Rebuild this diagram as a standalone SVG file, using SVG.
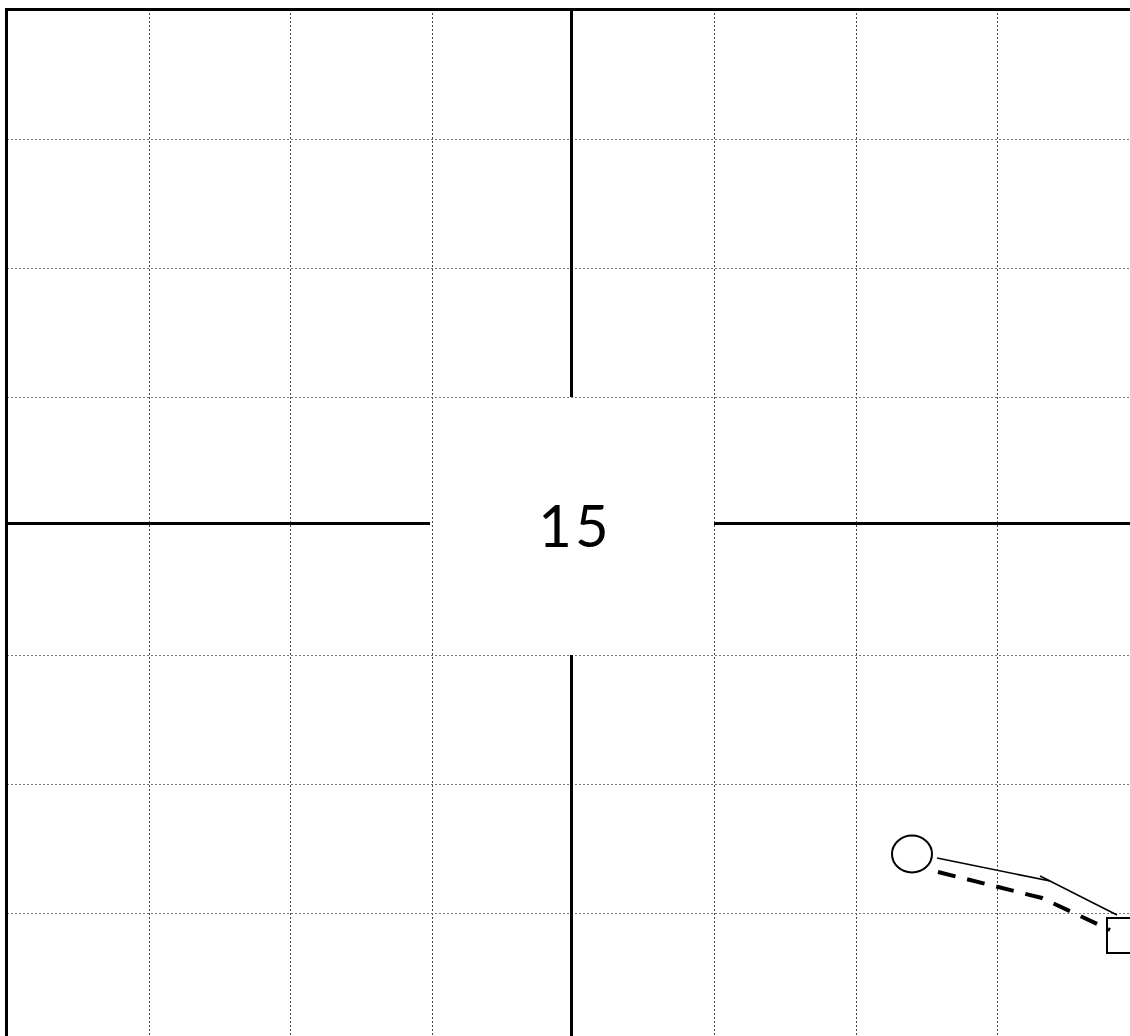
<svg xmlns="http://www.w3.org/2000/svg" width="1130" height="1036" viewBox="0 0 1130 1036">
<style>
.gv{stroke:#444;stroke-width:1;stroke-dasharray:2 2;fill:none}
.gh{stroke:#777;stroke-width:1;stroke-dasharray:2 2;fill:none}
.thick{stroke:#000;stroke-width:3;fill:none}
.thin{stroke:#000;stroke-width:1.6;fill:none}
.dash{stroke:#000;stroke-width:4;stroke-dasharray:18 12;fill:none}
</style>
<rect width="1130" height="1036" fill="#fff"/>
<g id="grid">
<line class="gv" x1="149.5" y1="9" x2="149.5" y2="1036"/>
<line class="gv" x1="290.5" y1="9" x2="290.5" y2="1036"/>
<line class="gv" x1="432.5" y1="9" x2="432.5" y2="1036"/>
<line class="gv" x1="714.5" y1="9" x2="714.5" y2="1036"/>
<line class="gv" x1="856.5" y1="9" x2="856.5" y2="1036"/>
<line class="gv" x1="997.5" y1="9" x2="997.5" y2="1036"/>
<line class="gh" x1="7" y1="139.5" x2="1130" y2="139.5"/>
<line class="gh" x1="7" y1="268.5" x2="1130" y2="268.5"/>
<line class="gh" x1="7" y1="397.5" x2="1130" y2="397.5"/>
<line class="gh" x1="7" y1="655.5" x2="1130" y2="655.5"/>
<line class="gh" x1="7" y1="784.5" x2="1130" y2="784.5"/>
<line class="gh" x1="7" y1="913.5" x2="1130" y2="913.5"/>
</g>
<g id="frame">
<line class="thick" x1="6.5" y1="9.5" x2="1130" y2="9.5"/>
<line class="thick" x1="6.5" y1="8" x2="6.5" y2="1036"/>
<line class="thick" x1="571.5" y1="9" x2="571.5" y2="397"/>
<line class="thick" x1="571.5" y1="655" x2="571.5" y2="1036"/>
<line class="thick" x1="6" y1="523.5" x2="430" y2="523.5"/>
<line class="thick" x1="714" y1="523.5" x2="1130" y2="523.5"/>
</g>
<g id="label">
<text x="575" y="547" font-family="Lato, 'Open Sans', sans-serif" font-size="58" text-anchor="middle" letter-spacing="3" fill="#000">15</text>
</g>
<g id="node-circle">
<ellipse cx="912" cy="854" rx="20" ry="18.5" fill="#fff" stroke="#000" stroke-width="2"/>
</g>
<g id="node-square">
<rect x="1107" y="918" width="40" height="35" fill="#fff" stroke="#000" stroke-width="2"/>
</g>
<g id="connectors">
<polyline class="thin" points="937,858 1050,881 1117,915"/>
<line class="thin" x1="1040" y1="876" x2="1050" y2="881"/>
<polyline class="dash" points="938,872 1042,898 1110,930"/>
</g>
</svg>
